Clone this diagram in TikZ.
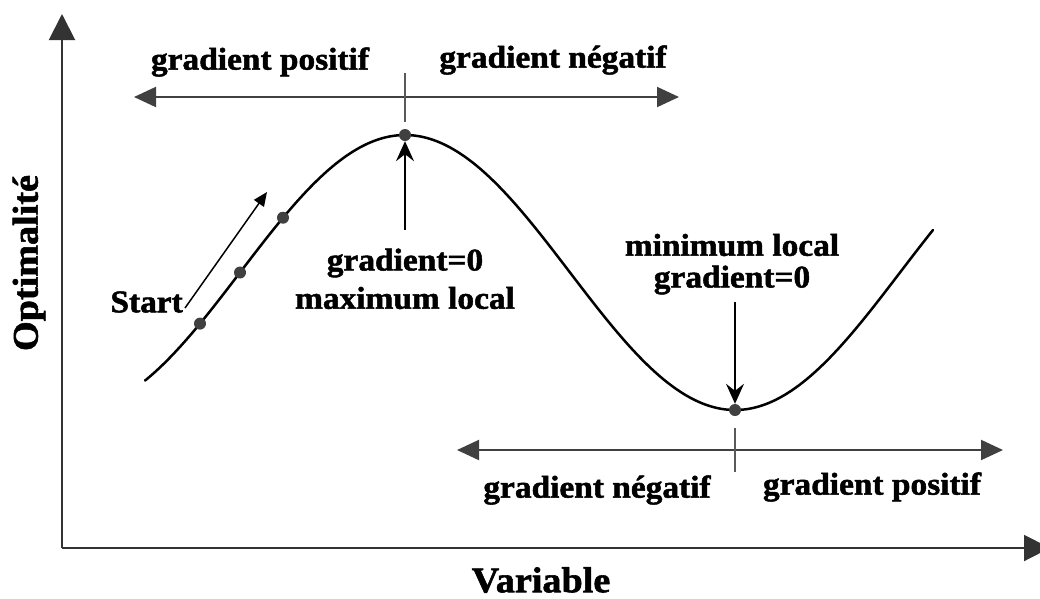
\documentclass[tikz,border=0pt]{standalone}
\usepackage{fontspec}
\setmainfont{Liberation Serif}
\newfontfamily\lbl{Liberation Serif}[FakeStretch=1.06, FakeBold=1.6]
\usetikzlibrary{arrows.meta}
\begin{document}
\begin{tikzpicture}[x=1pt,y=-1pt,
  lab/.style={font=\lbl\bfseries\fontsize{31.5}{33}\selectfont, inner sep=0pt},
  big/.style={font=\lbl\bfseries\fontsize{36}{38}\selectfont, inner sep=0pt},
  axis/.style={line width=2pt, draw=black!80},
  garrow/.style={line width=2pt, draw=black!75, {Triangle[length=22pt,width=20pt]}-{Triangle[length=22pt,width=20pt]}},
  ticks/.style={line width=1.5pt, draw=black!65},
  vptr/.style={line width=1.5pt, -{Stealth[length=20pt,width=18pt,inset=7pt]}},
  sptr/.style={line width=1.5pt, -{Triangle[length=14pt,width=12pt]}},
  dot/.style={circle, fill=black!75, inner sep=0pt, minimum size=12pt},
  curve/.style={line width=2.5pt, line cap=round}]
\useasboundingbox (0,0) rectangle (1040,598);
% axes
\coordinate (O) at (62,548);
\coordinate (ytip) at (62,14);
\coordinate (xtip) at (1050,548);
\draw[axis, -{Triangle[length=26pt,width=26pt]}] (O) -- (ytip);
\draw[axis, -{Triangle[length=26pt,width=26pt]}] (O) -- (xtip);
\node[big, rotate=90] (ylab) at (29,263) {Optimalité};
\node[big] (xlab) at (541,580) {Variable};
% curve
\draw[curve] plot[domain=145:933, samples=160, smooth] (\x,{272.5-137.5*cos((\x-405)*0.5454545)});
\node[dot] (d1) at (200,323.6) {};
\node[dot] (d2) at (240,272.5) {};
\node[dot] (d3) at (283,217.7) {};
\node[dot] (dmax) at (405,135) {};
\node[dot] (dmin) at (735,410) {};
% start
\node[lab, anchor=east] (start) at (183,302) {Start};
\coordinate (sa) at (267,192);
\draw[sptr] ([xshift=2pt,yshift=-6pt]start.east) -- (sa);
% top gradient arrow
\coordinate (tl) at (134,97);
\coordinate (tr) at (679,97);
\draw[garrow] (tl) -- (tr);
\coordinate (t1a) at (405,73);
\coordinate (t1b) at (405,122);
\draw[ticks] (t1a) -- (t1b);
\node[lab] (gp1) at (260,62) {gradient positif};
\node[lab] (gn1) at (553,60) {gradient négatif};
% max labels
\node[lab] (g0a) at (405,263) {gradient=0};
\node[lab] (maxl) at (405,298) {maximum local};
\coordinate (ua) at (405,230);
\draw[vptr] (ua) -- (dmax.south);
% min labels
\node[lab] (minl) at (732,245) {minimum local};
\node[lab] (g0b) at (732,280) {gradient=0};
\coordinate (da) at (735,302);
\draw[vptr] (da) -- (dmin.north);
% bottom gradient arrow
\coordinate (bl) at (457,450);
\coordinate (br) at (1003,450);
\draw[garrow] (bl) -- (br);
\coordinate (t2a) at (735,428);
\coordinate (t2b) at (735,472);
\draw[ticks] (t2a) -- (t2b);
\node[lab] (gn2) at (597,490) {gradient négatif};
\node[lab] (gp2) at (872,487) {gradient positif};
\end{tikzpicture}
\end{document}
